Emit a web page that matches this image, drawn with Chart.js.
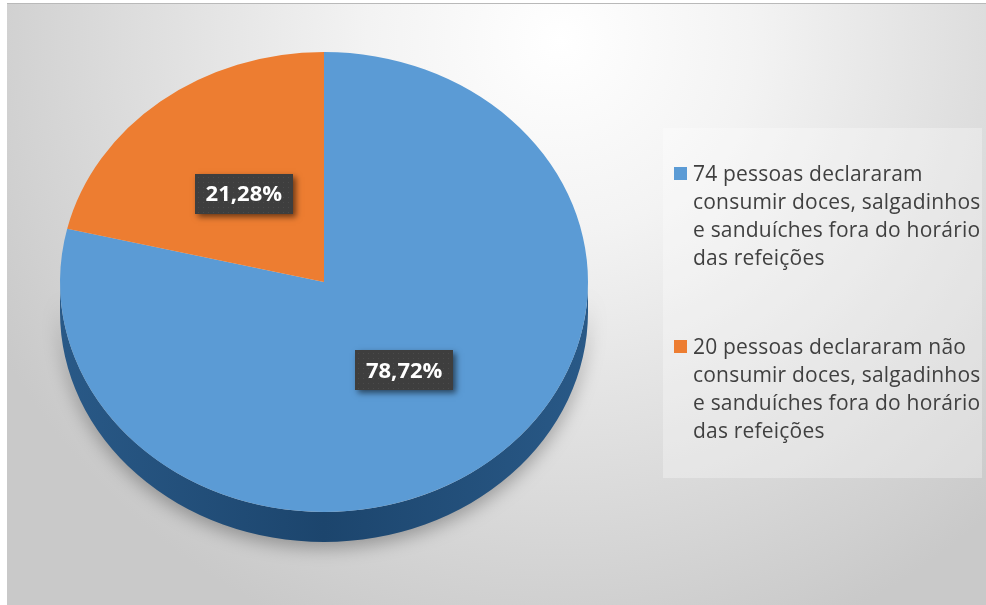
<!DOCTYPE html>
<html lang="pt">
<head>
<meta charset="utf-8">
<title>Consumo fora do horário das refeições</title>
<script src="https://cdn.jsdelivr.net/npm/chart.js@4.4.1/dist/chart.umd.min.js"></script>
<style>
  html, body { margin: 0; padding: 0; background: #fff; }
  #wrap { position: relative; width: 986px; height: 605px; overflow: hidden; }
  #chart { position: absolute; left: 0; top: 0; }
  #legend {
    position: absolute; left: 663px; top: 128px; width: 319px; height: 350px;
    background: rgba(255, 255, 255, 0.3);
    font-family: "Open Sans", sans-serif; font-size: 21px; color: #404040;
  }
  .legend-item { position: absolute; left: 30px; line-height: 28px; letter-spacing: 0.2px; white-space: nowrap; }
  .legend-swatch { position: absolute; left: -19px; top: 8px; width: 13px; height: 13px; }
</style>
</head>
<body>
<div id="wrap">
  <canvas id="chart" width="986" height="605"></canvas>
  <div id="legend"></div>
</div>
<script>
  // ── Data ──
  const categories = [
    ["74 pessoas declararam", "consumir doces, salgadinhos", "e sanduíches fora do horário", "das refeições"],
    ["20 pessoas declararam não", "consumir doces, salgadinhos", "e sanduíches fora do horário", "das refeições"],
  ];
  const counts = [74, 20];
  const sliceColors = ["#5b9bd5", "#ed7d31"];
  const sideColors = [["#295987", "#1c456d"], ["#a9561e", "#843f12"]];

  // ── Pie geometry (tilted 3D look) ──
  const SQUASH = 0.871;   // vertical / horizontal radius of the top face
  const DEPTH = 30;       // thickness of the pie side
  const LABEL_POS = 0.49; // label distance from centre, fraction of radius

  const total = counts.reduce(function (a, b) { return a + b; }, 0);

  function pctLabel(v) {
    return (v / total * 100).toFixed(2).replace(".", ",") + "%";
  }

  // ── Legend ──
  const legendEl = document.getElementById("legend");
  const itemTops = [31, 204];
  categories.forEach(function (lines, i) {
    const item = document.createElement("div");
    item.className = "legend-item";
    item.style.top = itemTops[i] + "px";
    const sw = document.createElement("span");
    sw.className = "legend-swatch";
    sw.style.background = sliceColors[i];
    item.appendChild(sw);
    lines.forEach(function (line, j) {
      if (j > 0) item.appendChild(document.createElement("br"));
      item.appendChild(document.createTextNode(line));
    });
    legendEl.appendChild(item);
  });

  // ── 3D pie plugin: background, side walls, squash, value boxes ──
  const pie3d = {
    id: "pie3d",
    beforeDraw: function (chart) {
      const ctx = chart.ctx;
      ctx.save();
      const g = ctx.createRadialGradient(560, 40, 0, 560, 40, 640);
      g.addColorStop(0, "#ffffff");
      g.addColorStop(0.3, "#f3f3f3");
      g.addColorStop(1, "#c9c9c9");
      ctx.fillStyle = g;
      ctx.fillRect(7, 3, chart.width - 7, chart.height - 3);
      ctx.fillStyle = "#b9b9b9";
      ctx.fillRect(7, 3, chart.width - 7, 1);
      ctx.restore();
    },
    beforeDatasetsDraw: function (chart) {
      const ctx = chart.ctx;
      const arcs = chart.getDatasetMeta(0).data;
      const cx = arcs[0].x, cy = arcs[0].y;
      const rx = arcs[0].outerRadius, ry = rx * SQUASH;

      ctx.save();
      ctx.shadowColor = "rgba(0,0,0,0.3)";
      ctx.shadowBlur = 18;
      ctx.shadowOffsetY = 6;
      arcs.forEach(function (arc, i) {
        for (let k = -1; k <= 1; k++) {
          const s = Math.max(arc.startAngle, 2 * Math.PI * k);
          const e = Math.min(arc.endAngle, Math.PI + 2 * Math.PI * k);
          if (e <= s) continue;
          const g = ctx.createLinearGradient(cx - rx, 0, cx + rx, 0);
          g.addColorStop(0, sideColors[i][0]);
          g.addColorStop(0.5, sideColors[i][1]);
          g.addColorStop(1, sideColors[i][0]);
          ctx.fillStyle = g;
          ctx.beginPath();
          ctx.ellipse(cx, cy, rx, ry, 0, s, e);
          ctx.ellipse(cx, cy + DEPTH, rx, ry, 0, e, s, true);
          ctx.closePath();
          ctx.fill();
        }
      });
      ctx.restore();

      // squash the circle into the top face
      ctx.save();
      ctx.translate(0, cy);
      ctx.scale(1, SQUASH);
      ctx.translate(0, -cy);
    },
    afterDatasetsDraw: function (chart) {
      const ctx = chart.ctx;
      ctx.restore();

      const arcs = chart.getDatasetMeta(0).data;
      ctx.save();
      ctx.font = "bold 22px 'Open Sans', sans-serif";
      ctx.textAlign = "center";
      ctx.textBaseline = "middle";
      arcs.forEach(function (arc, i) {
        const mid = (arc.startAngle + arc.endAngle) / 2;
        const r = arc.outerRadius * LABEL_POS;
        const x = arc.x + r * Math.cos(mid);
        const y = arc.y + r * Math.sin(mid) * SQUASH;
        const text = pctLabel(counts[i]);
        const w = Math.round(ctx.measureText(text).width + 22);
        const h = 40;
        const bx = Math.round(x - w / 2), by = Math.round(y - h / 2);

        ctx.save();
        ctx.shadowColor = "rgba(0,0,0,0.55)";
        ctx.shadowBlur = 6;
        ctx.shadowOffsetX = 3;
        ctx.shadowOffsetY = 3;
        ctx.fillStyle = "#3e3e3e";
        ctx.fillRect(bx, by, w, h);
        ctx.restore();

        // fine dot texture on the box
        ctx.fillStyle = "rgba(255,255,255,0.07)";
        for (let dx = 3; dx < w; dx += 5) {
          for (let dy = 3; dy < h; dy += 5) ctx.fillRect(bx + dx, by + dy, 1, 1);
        }

        ctx.fillStyle = "#ffffff";
        ctx.fillText(text, x, y + 1);
      });
      ctx.restore();
    },
  };

  new Chart(document.getElementById("chart"), {
    type: "pie",
    data: {
      labels: categories.map(function (l) { return l.join(" "); }),
      datasets: [{
        data: counts,
        backgroundColor: sliceColors,
        borderWidth: 0,
      }],
    },
    options: {
      responsive: false,
      animation: false,
      events: [],
      layout: { padding: { left: 60, right: 398, top: 18, bottom: 59 } },
      plugins: {
        legend: { display: false },
        tooltip: { enabled: false },
      },
    },
    plugins: [pie3d],
  });
</script>
</body>
</html>
